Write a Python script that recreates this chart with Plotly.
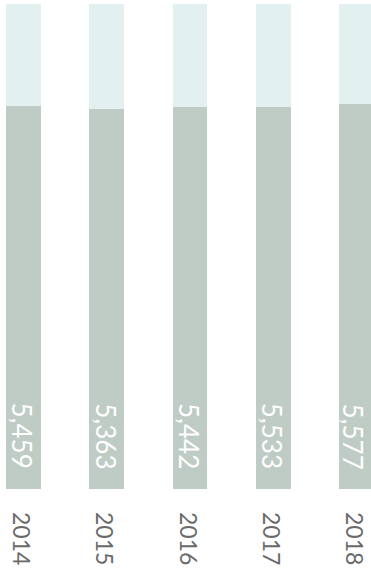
import plotly.graph_objects as go

years = ["2014", "2015", "2016", "2017", "2018"]
counts = [5459, 5363, 5442, 5533, 5577]
share = [79.0, 78.4, 78.8, 78.8, 79.4]
rest = [100 - s for s in share]
labels = [f"{c:,}" for c in counts]

dark = "#bfccc6"
light = "#e3f0f0"

fig = go.Figure()
fig.add_trace(go.Bar(x=years, y=share, marker=dict(color=dark, line=dict(width=0)),
                     width=0.42, hoverinfo="skip"))
fig.add_trace(go.Bar(x=years, y=rest, marker=dict(color=light, line=dict(width=0)),
                     width=0.42, hoverinfo="skip"))

n = len(labels)
for i, lab in enumerate(labels):
    fig.add_annotation(x=i, y=0, xref="x", yref="y", text=lab, showarrow=False,
                       textangle=90, xanchor="center", yanchor="bottom", yshift=18,
                       xshift=(-4 if i == n - 1 else -1),
                       font=dict(family="Lato", size=26, color="white"))

fig.update_layout(
    barmode="stack",
    width=371, height=575,
    margin=dict(l=0, r=0, t=4, b=86),
    paper_bgcolor="white", plot_bgcolor="white",
    showlegend=False,
    bargap=0,
    xaxis=dict(type="category", range=[-0.282, 4.174], showgrid=False, zeroline=False,
               showline=False, tickangle=90, ticklabelstandoff=22, ticklabelshift=-3,
               tickfont=dict(family="Lato", size=23, color="#6a6a6a")),
    yaxis=dict(range=[0, 100], visible=False),
)
fig.write_html("out.html")
